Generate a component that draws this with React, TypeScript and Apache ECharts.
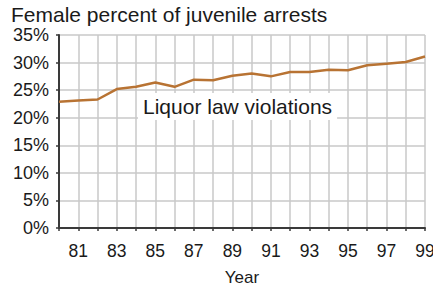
import React, { useEffect, useRef } from "react";
import * as echarts from "echarts";

const years = [80, 81, 82, 83, 84, 85, 86, 87, 88, 89, 90, 91, 92, 93, 94, 95, 96, 97, 98, 99];
const femalePct = [22.9, 23.1, 23.3, 25.2, 25.6, 26.4, 25.6, 26.9, 26.8, 27.6, 28.0, 27.5, 28.3, 28.3, 28.7, 28.6, 29.5, 29.8, 30.1, 31.1];
const titleText = "Female percent of juvenile arrests";
const seriesLabel = "Liquor law violations";
const xAxisName = "Year";

const FONT = "Arial, 'Liberation Sans', sans-serif";

export default function App() {
  const ref = useRef<HTMLDivElement>(null);
  useEffect(() => {
    if (!ref.current) return;
    const chart = echarts.init(ref.current, null, { renderer: "svg" });
    chart.setOption({
      animation: false,
      backgroundColor: "#ffffff",
      title: {
        text: titleText,
        left: 11,
        top: 4,
        padding: 0,
        textStyle: { fontFamily: FONT, fontSize: 21, fontWeight: "normal", color: "#1a1a1a" },
      },
      grid: { left: 59, right: 8, top: 35, bottom: 58, outerBoundsMode: "none", containLabel: false },
      xAxis: {
        type: "value",
        min: 80,
        max: 99,
        interval: 1,
        name: xAxisName,
        nameLocation: "middle",
        nameGap: 41,
        nameTextStyle: { fontFamily: FONT, fontSize: 17, lineHeight: 17, color: "#1a1a1a" },
        axisLine: { show: true, lineStyle: { color: "#3a3a3a", width: 2 } },
        axisTick: { show: true, length: 3, lineStyle: { color: "#3a3a3a", width: 1.5 } },
        splitLine: { show: true, lineStyle: { color: "#c8c8c8", width: 1.5 } },
        axisLabel: {
          fontFamily: FONT,
          fontSize: 17.5,
          color: "#1a1a1a",
          margin: 14,
          showMinLabel: true,
          showMaxLabel: true,
          formatter: (v: number) => (v % 2 === 1 ? String(v) : ""),
        },
      },
      yAxis: {
        type: "value",
        min: 0,
        max: 35,
        interval: 5,
        axisLine: { show: true, lineStyle: { color: "#3a3a3a", width: 2 } },
        axisTick: { show: true, length: 3, lineStyle: { color: "#3a3a3a", width: 1.5 } },
        splitLine: { show: true, lineStyle: { color: "#c8c8c8", width: 1.5 } },
        axisLabel: {
          fontFamily: FONT,
          fontSize: 18,
          color: "#1a1a1a",
          margin: 10,
          formatter: "{value}%",
        },
      },
      graphic: [
        {
          type: "text",
          left: 138,
          top: 93,
          z: 100,
          style: {
            text: seriesLabel,
            fontFamily: FONT,
            fontSize: 21,
            fill: "#1a1a1a",
            backgroundColor: "#ffffff",
            padding: [3, 5, 3, 5],
          },
        },
      ],
      series: [
        {
          type: "line",
          data: years.map((y, i) => [y, femalePct[i]]),
          showSymbol: false,
          symbol: "none",
          lineStyle: { color: "#b87333", width: 2.5 },
        },
      ],
    });
    return () => chart.dispose();
  }, []);
  return (
    <div
      ref={ref}
      style={{ position: "fixed", left: 0, top: 0, width: 433, height: 286, background: "#fff" }}
    />
  );
}
